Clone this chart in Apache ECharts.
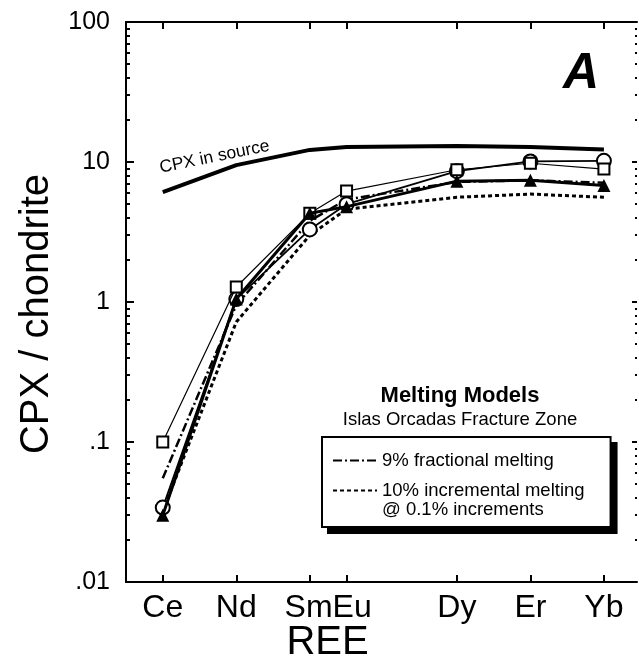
<!DOCTYPE html>
<html>
<head>
<meta charset="utf-8">
<script src="https://cdn.jsdelivr.net/npm/echarts@6/dist/echarts.min.js"></script>
<style>
  html, body { margin: 0; padding: 0; background: #fff; }
  #chart { width: 639px; height: 664px; }
</style>
</head>
<body>
<div id="chart"></div>
<script>
// Rare earth elements and their atomic numbers (used as x positions)
const elements = ['Ce', 'Nd', 'Sm', 'Eu', 'Dy', 'Er', 'Yb'];
const atomicNumbers = [58, 60, 62, 63, 66, 68, 70];

// Bottom axis labels (Sm and Eu share one label)
const axisLabelNames = ['Ce', 'Nd', 'SmEu', 'Dy', 'Er', 'Yb'];
const axisLabelPositions = [58, 60, 62.5, 66, 68, 70];

// Chondrite-normalised clinopyroxene REE
const cpxSource = [6.1, 9.5, 12.2, 12.8, 13.0, 12.8, 12.3];
const cpxSquares = [0.1, 1.28, 4.3, 6.2, 8.8, 9.8, 8.9];
const cpxCircles = [0.034, 1.05, 3.3, 5.0, 8.6, 10.1, 10.2];
const cpxTriangles = [0.03, 1.05, 4.3, 4.8, 7.3, 7.4, 6.8];
const fractional9 = [0.055, 0.95, 3.8, 5.4, 7.2, 7.4, 7.1];
const incremental10 = [0.032, 0.72, 3.0, 4.6, 5.6, 5.9, 5.6];

// Y tick labels on log10 positions
const decadeLabels = { '-2': '.01', '-1': '.1', '0': '1', '1': '10', '2': '100' };
const majorLog = [-2, -1, 0, 1, 2];
const minorLog = [];
for (let d = -2; d < 2; d++) {
  for (let k = 2; k <= 9; k++) minorLog.push(d + Math.log10(k));
}

const FONT = 'Liberation Sans, Arial, Helvetica, sans-serif';
const INK = '#000';

function pairs(values) {
  return values.map((v, i) => [atomicNumbers[i], v]);
}

const seriesNameFrac = '9% fractional melting';
const seriesNameIncr = '10% incremental melting\n@ 0.1% increments';

function decadeAxis(position, tickValues, tickLen, withLabels) {
  return {
    type: 'value', position: position, min: -2, max: 2, interval: 1,
    gridIndex: 0,
    axisLine: { show: withLabels, onZero: false, lineStyle: { color: INK, width: 2 } },
    axisTick: { show: true, inside: true, length: tickLen, customValues: tickValues,
                lineStyle: { color: INK, width: 2 } },
    axisLabel: withLabels ? {
      show: true, margin: 16, color: INK, fontFamily: FONT, fontSize: 25,
      formatter: v => decadeLabels[String(Math.round(v))] || '',
      showMinLabel: true, showMaxLabel: true
    } : { show: false },
    splitLine: { show: false }
  };
}

// Legend box; a second copy filled black sits behind it as the drop shadow
function legendBox(offset, isShadow) {
  return {
    orient: 'vertical', left: 322 + offset, top: 437 + offset,
    padding: [14, 26, 8, 10], itemGap: -8,
    itemWidth: 44, itemHeight: 14,
    backgroundColor: isShadow ? INK : '#fff',
    borderColor: INK, borderWidth: 2,
    selectedMode: false,
    z: isShadow ? 3 : 4,
    itemStyle: { opacity: 0 },
    lineStyle: isShadow ? { opacity: 0 } : {},
    formatter: name => name.indexOf('\n') >= 0 ? ' \n' + name : name,
    textStyle: { fontFamily: FONT, fontSize: 18.5, lineHeight: 19,
                 color: isShadow ? 'rgba(0,0,0,0)' : INK },
    data: [seriesNameFrac, seriesNameIncr]
  };
}

const chart = echarts.init(document.getElementById('chart'), null, { renderer: 'canvas' });

chart.setOption({
  animation: false,
  backgroundColor: '#fff',
  grid: { left: 126, right: 2, top: 22, bottom: 82, containLabel: false, outerBoundsMode: 'none' },
  title: [
    {
      text: 'Melting Models', subtext: 'Islas Orcadas Fracture Zone',
      left: 455, top: 380, textAlign: 'center', itemGap: 3,
      textStyle: { fontFamily: FONT, fontSize: 22, fontWeight: 'bold', color: INK },
      subtextStyle: { fontFamily: FONT, fontSize: 18.5, color: INK }
    },
    {
      text: 'A', left: 558, top: 44,
      textStyle: { fontFamily: FONT, fontSize: 50, fontWeight: 'bold', fontStyle: 'italic', color: INK }
    }
  ],
  legend: [legendBox(0, false), legendBox(6, true)],
  xAxis: [
    {
      type: 'value', position: 'bottom', min: 57, max: 70.9,
      name: 'REE', nameLocation: 'middle', nameGap: 41, nameMoveOverlap: false,
      nameTextStyle: { fontFamily: FONT, fontSize: 40, color: INK, padding: [0, 108, 0, 0] },
      axisLine: { onZero: false, lineStyle: { color: INK, width: 2 } },
      axisTick: { inside: true, length: 7, customValues: atomicNumbers, lineStyle: { color: INK, width: 2 } },
      axisLabel: {
        customValues: axisLabelPositions, margin: 10, color: INK, fontFamily: FONT, fontSize: 32,
        formatter: v => axisLabelNames[axisLabelPositions.indexOf(v)] || ''
      },
      splitLine: { show: false }
    },
    {
      type: 'value', position: 'top', min: 57, max: 70.9,
      axisLine: { onZero: false, lineStyle: { color: INK, width: 2 } },
      axisTick: { inside: true, length: 7, customValues: atomicNumbers, lineStyle: { color: INK, width: 2 } },
      axisLabel: { show: false },
      splitLine: { show: false }
    }
  ],
  yAxis: [
    // data axis
    { type: 'log', logBase: 10, min: 0.01, max: 100, show: false },
    // left decades with labels and title
    Object.assign(decadeAxis('left', majorLog, 8, true), {
      name: 'CPX / chondrite', nameLocation: 'middle', nameGap: 64, nameRotate: 90,
      nameTextStyle: { fontFamily: FONT, fontSize: 40, color: INK, padding: [0, 24, 0, 0] }
    }),
    decadeAxis('left', minorLog, 4, false),
    decadeAxis('right', majorLog, 5, false),
    decadeAxis('right', minorLog, 2, false)
  ],
  graphic: [
    {
      type: 'text', left: 158, top: 137, rotation: 0.2,
      style: { text: 'CPX in source', font: '17.5px ' + FONT, fill: INK }
    }
  ],
  series: [
    {
      name: 'CPX in source', type: 'line', yAxisIndex: 0, data: pairs(cpxSource),
      symbol: 'none', lineStyle: { color: INK, width: 4 }, z: 2
    },
    {
      name: 'CPX circles', type: 'line', yAxisIndex: 0, data: pairs(cpxCircles),
      symbol: 'emptyCircle', symbolSize: 14,
      lineStyle: { color: INK, width: 1.8 }, itemStyle: { color: INK, borderWidth: 2 }, z: 3
    },
    {
      name: 'CPX squares', type: 'line', yAxisIndex: 0, data: pairs(cpxSquares),
      symbol: 'emptyRect', symbolSize: 11,
      lineStyle: { color: INK, width: 1.2 }, itemStyle: { color: INK, borderWidth: 1.5 }, z: 4
    },
    {
      name: seriesNameFrac, type: 'line', yAxisIndex: 0, data: pairs(fractional9),
      symbol: 'none', color: INK, lineStyle: { color: INK, width: 2.5, type: [9, 3, 2, 3] }, z: 3
    },
    {
      name: seriesNameIncr, type: 'line', yAxisIndex: 0, data: pairs(incremental10),
      symbol: 'none', color: INK, lineStyle: { color: INK, width: 3, type: [4, 3] }, z: 3
    },
    {
      name: 'CPX triangles', type: 'line', yAxisIndex: 0, data: pairs(cpxTriangles),
      symbol: 'triangle', symbolSize: 13,
      lineStyle: { color: INK, width: 3 }, itemStyle: { color: INK }, z: 5
    }
  ]
});
</script>
</body>
</html>
